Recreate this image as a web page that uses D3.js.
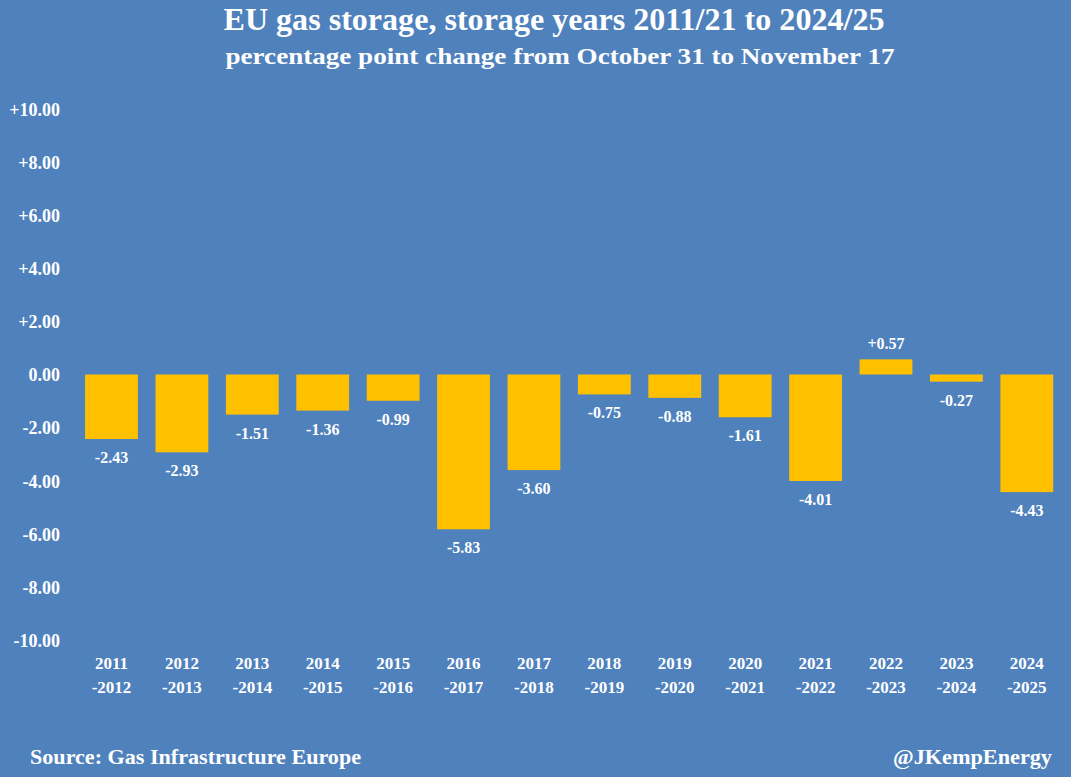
<!DOCTYPE html>
<html><head><meta charset="utf-8">
<script src="https://cdn.jsdelivr.net/npm/d3@7"></script>
<style>body{margin:0;background:#4f81bd;} svg{display:block;}</style>
</head><body>
<script>
const startYears = ["2011","2012","2013","2014","2015","2016","2017","2018","2019","2020","2021","2022","2023","2024"];
const endYears = ["-2012","-2013","-2014","-2015","-2016","-2017","-2018","-2019","-2020","-2021","-2022","-2023","-2024","-2025"];
const changes = [-2.43,-2.93,-1.51,-1.36,-0.99,-5.83,-3.60,-0.75,-0.88,-1.61,-4.01,0.57,-0.27,-4.43];
const yTicks = [10,8,6,4,2,0,-2,-4,-6,-8,-10];

const W=1071,H=777;
const font="'Liberation Serif','DejaVu Serif',serif";
const svg=d3.select("body").append("svg").attr("width",W).attr("height",H);
svg.append("rect").attr("width",W).attr("height",H).attr("fill","#4f81bd");

const x=d3.scaleBand().domain(startYears).range([76.3,1062]).paddingInner(0.25).paddingOuter(0.125);
const y=d3.scaleLinear().domain([-10,10]).range([640,109]);

const fmt=v=> v>0 ? "+"+v.toFixed(2) : v.toFixed(2);

svg.append("text").attr("x",554).attr("y",30).attr("text-anchor","middle")
 .attr("font-family",font).attr("font-weight","bold").attr("font-size",31).attr("fill","#fff")
 .attr("textLength",661).attr("lengthAdjust","spacingAndGlyphs")
 .text("EU gas storage, storage years 2011/21 to 2024/25");
svg.append("text").attr("x",560).attr("y",64).attr("text-anchor","middle")
 .attr("font-family",font).attr("font-weight","bold").attr("font-size",24).attr("fill","#fff")
 .attr("textLength",669).attr("lengthAdjust","spacingAndGlyphs")
 .text("percentage point change from October 31 to November 17");

const yAxis=d3.axisLeft(y).tickValues(yTicks).tickSize(0).tickPadding(0).tickFormat(fmt);
const ga=svg.append("g").attr("transform","translate(60,0)").call(yAxis);
ga.select(".domain").remove();
ga.selectAll("text").attr("font-family",font).attr("font-weight","bold").attr("font-size",18).attr("fill","#fff").attr("dy","0.35em");

svg.selectAll("rect.bar").data(changes).join("rect").attr("class","bar")
 .attr("x",(d,i)=>x(startYears[i])).attr("width",x.bandwidth())
 .attr("y",d=>y(Math.max(0,d))).attr("height",d=>Math.abs(y(d)-y(0)))
 .attr("fill","#ffc000");

svg.selectAll("text.lbl").data(changes).join("text").attr("class","lbl")
 .attr("x",(d,i)=>x(startYears[i])+x.bandwidth()/2)
 .attr("y",d=> d>=0 ? y(d)-10 : y(d)+24)
 .attr("text-anchor","middle").attr("font-family",font).attr("font-weight","bold").attr("font-size",16).attr("fill","#fff")
 .text(fmt);

const xl=svg.append("g");
startYears.forEach((s,i)=>{
  const cx=x(s)+x.bandwidth()/2;
  xl.append("text").attr("x",cx).attr("y",669).attr("text-anchor","middle").attr("font-family",font).attr("font-weight","bold").attr("font-size",17).attr("fill","#fff").text(s);
  xl.append("text").attr("x",cx).attr("y",693).attr("text-anchor","middle").attr("font-family",font).attr("font-weight","bold").attr("font-size",17).attr("fill","#fff").text(endYears[i]);
});

svg.append("text").attr("x",30).attr("y",764).attr("font-family",font).attr("font-weight","bold").attr("font-size",21).attr("fill","#fff")
 .attr("textLength",331).attr("lengthAdjust","spacingAndGlyphs").text("Source: Gas Infrastructure Europe");
svg.append("text").attr("x",893).attr("y",764).attr("font-family",font).attr("font-weight","bold").attr("font-size",21).attr("fill","#fff")
 .attr("textLength",159).attr("lengthAdjust","spacingAndGlyphs").text("@JKempEnergy");
</script>
</body></html>
